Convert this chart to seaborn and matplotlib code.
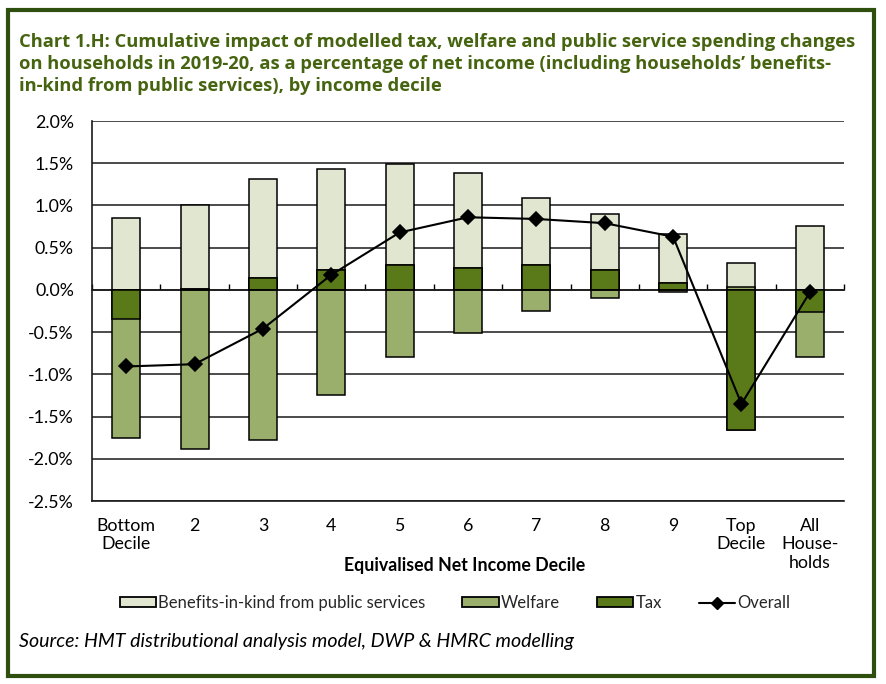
import numpy as np
import pandas as pd
import matplotlib
matplotlib.use("Agg")
import matplotlib.pyplot as plt
from matplotlib.patches import Rectangle, Patch
from matplotlib.lines import Line2D
from matplotlib.ticker import FuncFormatter, FixedLocator
import seaborn as sns

# ---------------- data (percent of net income) ----------------
categories = ["Bottom\nDecile", "2", "3", "4", "5", "6", "7", "8", "9",
              "Top\nDecile", "All\nHouse-\nholds"]
benefits_in_kind = [0.856, 0.995, 1.168, 1.191, 1.191, 1.129, 0.801, 0.658, 0.572, 0.286, 0.761]
welfare = [-1.415, -1.890, -1.775, -1.247, -0.800, -0.513, -0.249, -0.100, -0.030, 0.030, -0.537]
tax = [-0.339, 0.010, 0.146, 0.237, 0.296, 0.256, 0.292, 0.237, 0.087, -1.665, -0.260]
overall = [-0.907, -0.880, -0.460, 0.178, 0.680, 0.860, 0.840, 0.790, 0.630, -1.350, -0.030]
y_ticks = [-2.5, -2.0, -1.5, -1.0, -0.5, 0.0, 0.5, 1.0, 1.5, 2.0]
series_names = ["Benefits-in-kind from public services", "Welfare", "Tax", "Overall"]

# ---------------- style ----------------
sns.set_theme(style="white")
plt.rcParams["font.family"] = ["Lato", "DejaVu Sans"]
C_BIK = "#e0e6cf"
C_WEL = "#9aaf6c"
C_TAX = "#5a7a1a"
TITLE_C = "#466410"
FRAME_C = "#2f4f0f"

W, H = 887, 684
fig = plt.figure(figsize=(W / 100, H / 100), dpi=100)
fig.patch.set_facecolor("white")

ax_l, ax_r, ax_t, ax_b = 92, 844, 121, 501
ax = fig.add_axes([ax_l / W, 1 - ax_b / H, (ax_r - ax_l) / W, (ax_b - ax_t) / H])

# stacked layers (positive and negative stacks separate: tax nearest zero, then welfare, then BIK)
t = np.array(tax)
w = np.array(welfare)
b = np.array(benefits_in_kind)
t_pos, t_neg = np.clip(t, 0, None), np.clip(t, None, 0)
w_pos, w_neg = np.clip(w, 0, None), np.clip(w, None, 0)

layers = [
    (t_pos + w_pos + b, C_BIK),
    (t_pos + w_pos, C_WEL),
    (t_pos, C_TAX),
    (t_neg + w_neg, C_WEL),
    (t_neg, C_TAX),
]
for vals, col in layers:
    df = pd.DataFrame({"cat": categories, "val": vals})
    sns.barplot(data=df, x="cat", y="val", order=categories, color=col,
                saturation=1, width=0.41, edgecolor="black", linewidth=1.1,
                errorbar=None, ax=ax, zorder=3)

df_o = pd.DataFrame({"cat": categories, "val": overall})
sns.pointplot(data=df_o, x="cat", y="val", order=categories, color="black",
              markers="D", markersize=7, linewidth=1.5, errorbar=None, ax=ax)
for coll in ax.collections:
    coll.set_zorder(5)
for ln in ax.lines:
    ln.set_zorder(5)

# axes
ymin, ymax = y_ticks[0], y_ticks[-1]
ax.set_ylim(ymin, ymax)
ax.set_xlim(-0.5, len(categories) - 0.5)
ax.yaxis.set_major_locator(FixedLocator(y_ticks))
ax.yaxis.set_major_formatter(FuncFormatter(lambda v, p: f"{v:.1f}%"))
ax.set_axisbelow(True)
ax.yaxis.grid(True, color="#1a1a1a", linewidth=1.1)
ax.xaxis.grid(False)
for s in ["top", "right"]:
    ax.spines[s].set_visible(False)
for s in ["left", "bottom"]:
    ax.spines[s].set_color("#1a1a1a")
    ax.spines[s].set_linewidth(1.2)
ax.tick_params(axis="y", length=0, pad=13, labelsize=12.8, labelcolor="black")
ax.tick_params(axis="x", length=0, pad=12, labelsize=12.8, labelcolor="black")
ax.set_ylabel("")
ax.set_xlabel("Equivalised Net Income Decile", fontsize=12.8, fontweight="bold", color="black")
ax.xaxis.set_label_coords(0.496, (ax_b - 566) / (ax_b - ax_t))
ax.xaxis.label.set_va("center")

# category boundary ticks on the zero line
zero_frac = (0 - ymin) / (ymax - ymin)
sec = ax.secondary_xaxis(zero_frac)
sec.set_xticks(np.arange(-0.5, len(categories), 1.0))
sec.set_xticklabels([])
sec.tick_params(axis="x", direction="out", length=4, width=1, color="black")
sec.spines["bottom"].set_color("#1a1a1a")
sec.spines["bottom"].set_linewidth(1.2)

# title
title = ("Chart 1.H: Cumulative impact of modelled tax, welfare and public service spending changes\n"
         "on households in 2019-20, as a percentage of net income (including households\u2019 benefits-\n"
         "in-kind from public services), by income decile")
fig.text(19 / W, 1 - 33 / H, title, ha="left", va="top", fontsize=13.2,
         fontweight="bold", color=TITLE_C, linespacing=1.29,
         family=["Open Sans", "DejaVu Sans"])

# legend
handles = [
    Patch(facecolor=C_BIK, edgecolor="black", linewidth=1.3),
    Patch(facecolor=C_WEL, edgecolor="black", linewidth=1.3),
    Patch(facecolor=C_TAX, edgecolor="black", linewidth=1.3),
    Line2D([0], [0], color="black", marker="D", markersize=6, linewidth=1.5),
]
fig.legend(handles, series_names, loc="center", bbox_to_anchor=(455 / W, 1 - 603 / H),
           ncol=4, frameon=False, fontsize=12, handlelength=2.2, handleheight=0.55,
           handletextpad=0.12, columnspacing=2.2)

# source
fig.text(19 / W, 1 - 642 / H, "Source: HMT distributional analysis model, DWP & HMRC modelling",
         ha="left", va="center", fontsize=14.1, style="italic", color="black")

# outer frame
fig.patches.append(Rectangle((8 / W, 8 / H), (874 - 8) / W, (674 - 8) / H,
                             transform=fig.transFigure, fill=False,
                             edgecolor=FRAME_C, linewidth=3))

fig.savefig("out.png", dpi=100)
